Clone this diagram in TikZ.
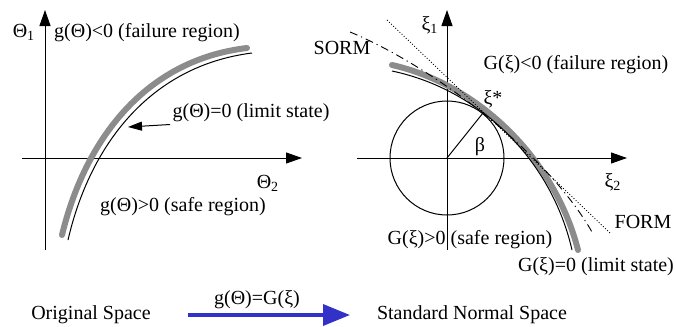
\documentclass[tikz,border=0pt]{standalone}
\usepackage{fontspec}
\setmainfont{Liberation Serif}
\newfontfamily\figfont{Liberation Serif}
\usepackage{tikz}
\usetikzlibrary{arrows.meta, positioning}
\definecolor{stategray}{HTML}{8C8C8C}
\definecolor{mapblue}{HTML}{3232C8}

\begin{document}
\begin{tikzpicture}[x=0.5pt, y=-0.5pt,
    axis/.style={line width=0.5pt, -{Triangle[length=8pt, width=5.5pt]}},
    lbl/.style={font=\figfont\fontsize{10}{12}\selectfont, inner sep=1pt},
    limitband/.style={line width=3pt, stategray, line cap=round},
    limitline/.style={line width=0.5pt},
    formline/.style={line width=0.45pt, densely dotted},
    sormline/.style={line width=0.45pt, dash pattern=on 4pt off 2pt on 0.6pt off 2pt},
    maparrow/.style={line width=1.75pt, mapblue, -{Triangle[length=13.5pt, width=10.5pt]}}
  ]
  \useasboundingbox (0,0) rectangle (676,327);

  % original space
  \draw[axis] (45,250) -- (45,10);
  \draw[axis] (22,158) -- (302,158);
  \node[lbl] (th1) at (24,32) {Θ\textsubscript{1}};
  \node[lbl] (th2) at (268,183) {Θ\textsubscript{2}};
  \draw[limitband] (62,235) .. controls (85,140) and (145,60) .. (247,48);
  \draw[limitline] (68,240) .. controls (90,145) and (150,66) .. (252,53);
  \node[lbl] (gfail) at (147,33) {g(Θ)<0 (failure region)};
  \node[lbl] (glim) at (251,113) {g(Θ)=0 (limit state)};
  \node[lbl] (gsafe) at (183,207) {g(Θ)>0 (safe region)};
  \coordinate (gpt) at (128,127);
  \draw[line width=0.5pt, -{Triangle[length=7pt, width=4.5pt]}] (glim.south west) -- (gpt);

  % standard normal space
  \coordinate (o2) at (447,158);
  \coordinate (xs) at (483,113);
  \draw[axis] (447,250) -- (447,10);
  \draw[axis] (357,158) -- (627,158);
  \draw[line width=0.5pt] (o2) circle[radius=57];
  \draw[line width=0.5pt] (o2) -- (xs);
  \draw[limitband] (392,65) .. controls (480,85) and (555,160) .. (578,250);
  \draw[limitline] (392,71) .. controls (482,90) and (552,162) .. (572,250);
  \draw[formline] (387,20) -- (610,233);
  \draw[sormline] (350,32) .. controls (430,65) and (545,150) .. (592,232);
  \node[lbl] (xi1) at (430,25) {ξ\textsubscript{1}};
  \node[lbl] (xi2) at (613,182) {ξ\textsubscript{2}};
  \node[lbl] (xstar) at (493,99) {ξ*};
  \node[lbl] (beta) at (480,147) {β};
  \node[lbl] (Gfail) at (576,65) {G(ξ)<0 (failure region)};
  \node[lbl] (sorm) at (342,48) {SORM};
  \node[lbl] (form) at (643,222) {FORM};
  \node[lbl] (Gsafe) at (470,240) {G(ξ)>0 (safe region)};
  \node[lbl] (Glim) at (596,267) {G(ξ)=0 (limit state)};

  % mapping between the spaces
  \node[lbl] (orig) at (91,315) {Original Space};
  \node[lbl] (std) at (472,315) {Standard Normal Space};
  \coordinate (mapstart) at (188,315);
  \coordinate (mapend) at (350,315);
  \draw[maparrow] (mapstart) -- (mapend);
  \node[lbl] (map) at (257,300) {g(Θ)=G(ξ)};
\end{tikzpicture}
\end{document}
